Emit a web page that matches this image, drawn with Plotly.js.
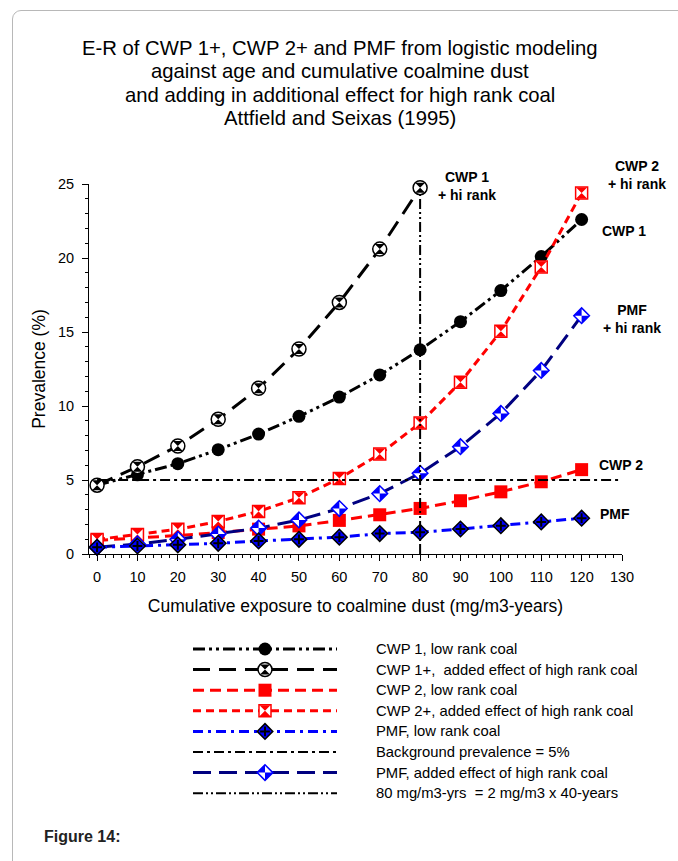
<!DOCTYPE html>
<html><head><meta charset="utf-8">
<script src="https://cdn.plot.ly/plotly-3.0.1.min.js"></script>
<style>
html,body{margin:0;padding:0;background:#fff;overflow:hidden}
#frame{position:absolute;left:12px;top:10px;width:720px;height:900px;border:1px solid #b8b8b8;border-radius:9px;box-sizing:border-box}
#chart{position:absolute;left:0;top:0;width:678px;height:861px}
</style></head><body>
<div id="frame"></div>
<div id="chart"></div>
<script>
// ---- data ----
const exposure = [0,10,20,30,40,50,60,70,80,90,100,110,120];
const exposureHi1 = [0,10,20,30,40,50,60,70,80];
const cwp1Low  = [4.65,5.35,6.1,7.05,8.1,9.3,10.6,12.1,13.8,15.7,17.8,20.1,22.6];
const cwp1High = [4.65,5.9,7.3,9.1,11.2,13.85,17.0,20.6,24.75];
const cwp2Low  = [0.92,1.08,1.25,1.45,1.68,1.9,2.27,2.65,3.08,3.6,4.2,4.88,5.7];
const cwp2High = [0.98,1.32,1.67,2.2,2.88,3.8,5.1,6.75,8.85,11.6,15.05,19.4,24.4];
const pmfLow   = [0.45,0.54,0.62,0.72,0.88,0.99,1.14,1.38,1.47,1.69,1.91,2.17,2.42];
const pmfHigh  = [0.45,0.68,0.99,1.35,1.75,2.3,3.07,4.08,5.45,7.25,9.5,12.4,16.1];
const bgX = [0,130], bgY = [5,5];
const refX = [80,80], refY = [0,24.75];
const xTickVals = [0,10,20,30,40,50,60,70,80,90,100,110,120,130];
const yTickVals = [0,5,10,15,20,25];
const titleLines = [
  'E-R of CWP 1+, CWP 2+ and PMF from logistic modeling',
  'against age and cumulative coalmine dust',
  'and adding in additional effect for high rank coal',
  'Attfield and Seixas (1995)'
];
const legendLabels = [
  'CWP 1, low rank coal',
  'CWP 1+,  added effect of high rank coal',
  'CWP 2, low rank coal',
  'CWP 2+, added effect of high rank coal',
  'PMF, low rank coal',
  'Background prevalence = 5%',
  'PMF, added effect of high rank coal',
  '80 mg/m3-yrs  = 2 mg/m3 x 40-years'
];
const seriesLabels = ['<b>CWP 1<br>+ hi rank</b>','<b>CWP 2<br>+ hi rank</b>','<b>CWP 1</b>',
                      '<b>PMF<br>+ hi rank</b>','<b>CWP 2</b>','<b>PMF</b>'];

// ---- styles ----
const FONT = '"Liberation Sans", Arial, sans-serif';
const S = {
  cwp1:  {line:{color:'#000',width:3,dash:'12px,4px,3px,4px,3px,4px'}, m:[{symbol:'circle',size:13,color:'#000',line:{width:0}}]},
  cwp1h: {line:{color:'#000',width:3,dash:'17px,9px'}, m:[{symbol:'circle',size:14,color:'#fff',line:{color:'#000',width:1.5}},{symbol:'hourglass',size:10,color:'#000',line:{width:0}}]},
  cwp2:  {line:{color:'#ff0000',width:3,dash:'11px,6px'}, m:[{symbol:'square',size:13,color:'#ff0000',line:{width:0}}]},
  cwp2h: {line:{color:'#ff0000',width:3,dash:'8px,5px'}, m:[{symbol:'square',size:12,color:'#fff',line:{color:'#ff0000',width:1.5}},{symbol:'hourglass',size:11,color:'#ff0000',line:{width:0}}]},
  pmf:   {line:{color:'#0000ff',width:3,dash:'10px,5px,3px,5px'}, m:[{symbol:'diamond',size:12,color:'#0000ff',line:{color:'#000',width:1.5}},{symbol:'cross-thin',size:7,color:'#000',line:{color:'#000',width:2}}]},
  bg:    {line:{color:'#000',width:2,dash:'10px,4px,3px,4px'}, m:[]},
  pmfh:  {line:{color:'#000080',width:3,dash:'18px,8px'}, m:[{symbol:'diamond',size:12,color:'#fff',line:{color:'#0000ff',width:1.5}},{symbol:'bowtie',angle:45,size:11,color:'#0000ff',line:{width:0}}]},
  ref:   {line:{color:'#000',width:2,dash:'10px,3px,2px,3px,2px,3px'}, m:[]}
};

const traces = [];
function addSeries(x, y, st, xa, ya, markerX, markerY) {
  traces.push({x:x, y:y, xaxis:xa, yaxis:ya, type:'scatter', mode:'lines', line:st.line,
               showlegend:false, hoverinfo:'skip', cliponaxis:false});
  st.m.forEach(mk => {
    traces.push({x:markerX, y:markerY, xaxis:xa, yaxis:ya, type:'scatter', mode:'markers',
                 marker:Object.assign({}, mk), showlegend:false, hoverinfo:'skip', cliponaxis:false});
  });
}
// main plot series
addSeries(exposure, cwp1Low, S.cwp1, 'x', 'y', exposure, cwp1Low);
addSeries(exposureHi1, cwp1High, S.cwp1h, 'x', 'y', exposureHi1, cwp1High);
addSeries(exposure, cwp2Low, S.cwp2, 'x', 'y', exposure, cwp2Low);
addSeries(exposure, cwp2High, S.cwp2h, 'x', 'y', exposure, cwp2High);
addSeries(exposure, pmfHigh, S.pmfh, 'x', 'y', exposure, pmfHigh);
addSeries(exposure, pmfLow, S.pmf, 'x', 'y', exposure, pmfLow);
addSeries(bgX, bgY, S.bg, 'x', 'y', [], []);
addSeries(refX, refY, S.ref, 'x', 'y', [], []);

// legend samples (row i on the auxiliary axes)
const legendStyles = [S.cwp1, S.cwp1h, S.cwp2, S.cwp2h, S.pmf, S.bg, S.pmfh, S.ref];
legendStyles.forEach((st, i) => {
  addSeries([0,1], [i,i], st, 'x2', 'y2', [0.5], [i]);
});

// label positions in paper coordinates
const labelPos = [[0.7101,0.9963],[1.0281,1.0144],[1.0038,0.9255],[1.0188,0.7842],[0.9972,0.5518],[0.9869,0.4732]];
const annotations = seriesLabels.map((t, i) => ({
  x:labelPos[i][0], y:labelPos[i][1], xref:'paper', yref:'paper', text:t, showarrow:false,
  xanchor:'center', yanchor:'middle', font:{family:FONT, size:14, color:'#000'}
}));

const titleY = [1.2169, 1.1798, 1.1424, 1.1053];
titleLines.forEach((t, i) => annotations.push({
  x:0.4709, y:titleY[i], xref:'paper', yref:'paper', text:t, showarrow:false,
  xanchor:'center', yanchor:'middle', font:{family:FONT, size:20.3, color:'#000'}
}));

legendLabels.forEach((t, i) => annotations.push({
  x:0.5347, y:i, xref:'paper', yref:'y2', text:t, showarrow:false, xanchor:'left', yanchor:'middle',
  font:{family:FONT, size:14.8, color:'#000'}
}));
annotations.push({x:-0.0882, y:-0.0399, xref:'paper', yref:'paper', text:'<b>Figure 14:</b>',
  showarrow:false, xanchor:'left', yanchor:'middle', font:{family:FONT, size:16, color:'#222'}});

const layout = {
  width:678, height:861,
  margin:{l:89, r:56, t:184, b:50},
  paper_bgcolor:'rgba(0,0,0,0)', plot_bgcolor:'rgba(0,0,0,0)',
  font:{family:FONT, color:'#000'},
  xaxis:{range:[-2,130], tickvals:xTickVals, ticks:'outside', ticklen:6, tickwidth:1, tickcolor:'#000',
         showline:true, linecolor:'#000', linewidth:1, showgrid:false, zeroline:false, anchor:'y',
         minor:{dtick:2, tick0:0, ticks:'outside', ticklen:3, tickcolor:'#000', showgrid:false},
         tickfont:{family:FONT, size:14.5, color:'#000'}, ticklabelstandoff:4,
         title:{text:'Cumulative exposure to coalmine dust (mg/m3-years)', font:{family:FONT, size:17.5, color:'#000'}, standoff:15}},
  yaxis:{range:[0,25], tickvals:yTickVals, domain:[0.40989,1], ticks:'outside', ticklen:6, tickwidth:1, tickcolor:'#000',
         showline:true, linecolor:'#000', linewidth:1, showgrid:false, zeroline:false, anchor:'x',
         minor:{dtick:1, tick0:0, ticks:'outside', ticklen:3, tickcolor:'#000', showgrid:false},
         tickfont:{family:FONT, size:14.5, color:'#000'}, ticklabelstandoff:5,
         title:{text:'Prevalence (%)', font:{family:FONT, size:17.5, color:'#000'}, standoff:7}},
  xaxis2:{domain:[0.1951,0.4653], range:[0,1], visible:false, anchor:'y2', fixedrange:true},
  yaxis2:{domain:[0.01196,0.2748], range:[7.5,-0.5], visible:false, anchor:'x2', fixedrange:true},
  annotations:annotations,
  showlegend:false
};

Plotly.newPlot('chart', traces, layout, {displayModeBar:false, staticPlot:true});
</script>
</body></html>
